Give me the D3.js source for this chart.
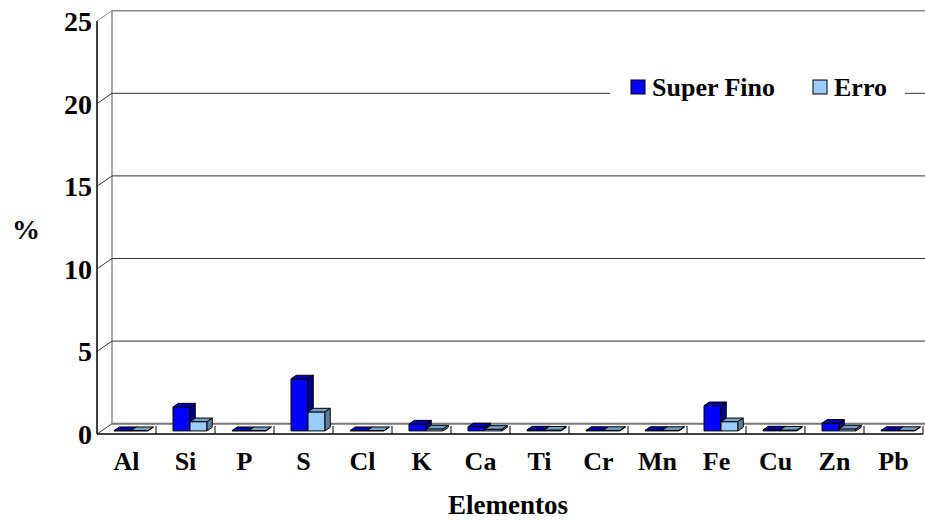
<!DOCTYPE html>
<html><head><meta charset="utf-8">
<script src="https://cdn.jsdelivr.net/npm/d3@7/dist/d3.min.js"></script>
<style>body{margin:0;background:#fff}svg{display:block}text{font-family:"Liberation Serif","Times New Roman",serif;font-weight:bold;fill:#000}</style>
</head><body><svg id="c" width="925" height="521"></svg>
<script>
const categories = ["Al","Si","P","S","Cl","K","Ca","Ti","Cr","Mn","Fe","Cu","Zn","Pb"];
const seriesNames = ["Super Fino","Erro"];
const superFino = [0.02,1.45,0.02,3.15,0.02,0.42,0.25,0.06,0.03,0.03,1.53,0.06,0.47,0.03];
const erro      = [0.02,0.56,0.02,1.15,0.02,0.12,0.10,0.05,0.03,0.03,0.56,0.05,0.12,0.03];
const yTicks = [0,5,10,15,20,25];
const yTitle = "%";
const xTitle = "Elementos";

const svg = d3.select("#c");
const W = 925;
const left = 97, right = 923, front0 = 434, front25 = 21;
const DX = 15, DY = -10.3; // depth of floor
const x = d3.scaleBand().domain(categories).range([left, right]);
const y = d3.scaleLinear().domain([0,25]).range([front0, front25]);
const xs = d3.scaleBand().domain(seriesNames).range([0, 34]);
const colors = {
  "Super Fino": {front:"#0000FF", top:"#0000B8", side:"#000088"},
  "Erro": {front:"#99CCFF", top:"#75A0CC", side:"#5F7F9F"}
};

const g = svg.append("g");
// back wall border
g.append("line").attr("x1",left+DX).attr("x2",W).attr("y1",y(25)+DY).attr("y2",y(25)+DY).attr("stroke","#8c8c8c").attr("stroke-width",1.5);
g.append("line").attr("x1",left+DX).attr("x2",left+DX).attr("y1",y(25)+DY).attr("y2",y(0)+DY).attr("stroke","#8c8c8c").attr("stroke-width",1.5);
// gridlines
yTicks.forEach(t=>{
  const yb = y(t)+DY;
  if (t>0 && t<25) g.append("line").attr("x1",left+DX).attr("x2",W).attr("y1",yb).attr("y2",yb).attr("stroke","#333").attr("stroke-width",1);
  g.append("line").attr("x1",left).attr("x2",left+DX).attr("y1",y(t)).attr("y2",yb).attr("stroke", t===25?"#8c8c8c":"#333").attr("stroke-width",1);
});
// floor back line
g.append("line").attr("x1",left+DX).attr("x2",W).attr("y1",y(0)+DY).attr("y2",y(0)+DY).attr("stroke","#777").attr("stroke-width",2);
// front axes
g.append("line").attr("x1",left).attr("x2",left).attr("y1",y(25)).attr("y2",y(0)).attr("stroke","#000").attr("stroke-width",1.5);
g.append("line").attr("x1",left).attr("x2",right).attr("y1",y(0)).attr("y2",y(0)).attr("stroke","#000").attr("stroke-width",1.5);
// category ticks
categories.forEach((c,i)=>{
  const xt = x(c)+x.bandwidth();
  g.append("line").attr("x1",xt).attr("x2",xt).attr("y1",y(0)-8).attr("y2",y(0)).attr("stroke","#000").attr("stroke-width",1);
});

// bars
const a = 0.3, b = 0.65;
const data = seriesNames.map((s,si)=>({name:s, values: si===0?superFino:erro}));
const bars = g.append("g");
categories.forEach((c,i)=>{
  data.forEach(ser=>{
    const v = ser.values[i];
    const x0 = x(c) + (x.bandwidth()-34)/2 + xs(ser.name) + a*DX;
    const x1 = x0 + xs.bandwidth();
    const yb = y(0) + a*DY;
    const yt = y(v) + a*DY;
    const ddx = (b-a)*DX, ddy = (b-a)*DY;
    const col = colors[ser.name];
    const gg = bars.append("g").attr("stroke","#000").attr("stroke-width",1).attr("stroke-linejoin","round");
    gg.append("path").attr("d",`M${x0},${yb}L${x1},${yb}L${x1},${yt}L${x0},${yt}Z`).attr("fill",col.front);
    gg.append("path").attr("d",`M${x0},${yt}L${x1},${yt}L${x1+ddx},${yt+ddy}L${x0+ddx},${yt+ddy}Z`).attr("fill",col.top);
    gg.append("path").attr("d",`M${x1},${yb}L${x1+ddx},${yb+ddy}L${x1+ddx},${yt+ddy}L${x1},${yt}Z`).attr("fill",col.side);
  });
});

// y tick labels
const yAxis = d3.axisLeft(y).tickValues(yTicks).tickSize(0).tickPadding(5);
const ya = svg.append("g").attr("transform",`translate(${left},0)`).call(yAxis);
ya.attr("font-family",null).attr("font-size",null);
ya.select(".domain").remove();
ya.selectAll("text").style("font-family",'"Liberation Serif","Times New Roman",serif').style("font-weight","bold").style("font-size","28px").attr("fill","#000").attr("dy","0.34em");

// x labels
const xAxis = d3.axisBottom(x).tickSize(0).tickPadding(18);
const xa = svg.append("g").attr("transform",`translate(0,${y(0)})`).call(xAxis);
xa.attr("font-family",null).attr("font-size",null);
xa.select(".domain").remove();
xa.selectAll("text").style("font-family",'"Liberation Serif","Times New Roman",serif').style("font-weight","bold").style("font-size","26px").attr("fill","#000");

svg.append("text").attr("x",26).attr("y",239).attr("text-anchor","middle").style("font-size","28px").text(yTitle);
svg.append("text").attr("x",508).attr("y",514).attr("text-anchor","middle").style("font-size","27px").text(xTitle);

// legend
const lg = svg.append("g");
lg.append("rect").attr("x",610).attr("y",74).attr("width",295).attr("height",34).attr("fill","#fff");
const legItems = [{name:"Super Fino", sx:631, tx:652},{name:"Erro", sx:813, tx:834}];
legItems.forEach(it=>{
  lg.append("rect").attr("x",it.sx).attr("y",80).attr("width",14).attr("height",14).attr("fill",colors[it.name].front).attr("stroke","#000").attr("stroke-width",1);
  lg.append("text").attr("x",it.tx).attr("y",96).style("font-size","26px").text(it.name);
});
</script></body></html>
